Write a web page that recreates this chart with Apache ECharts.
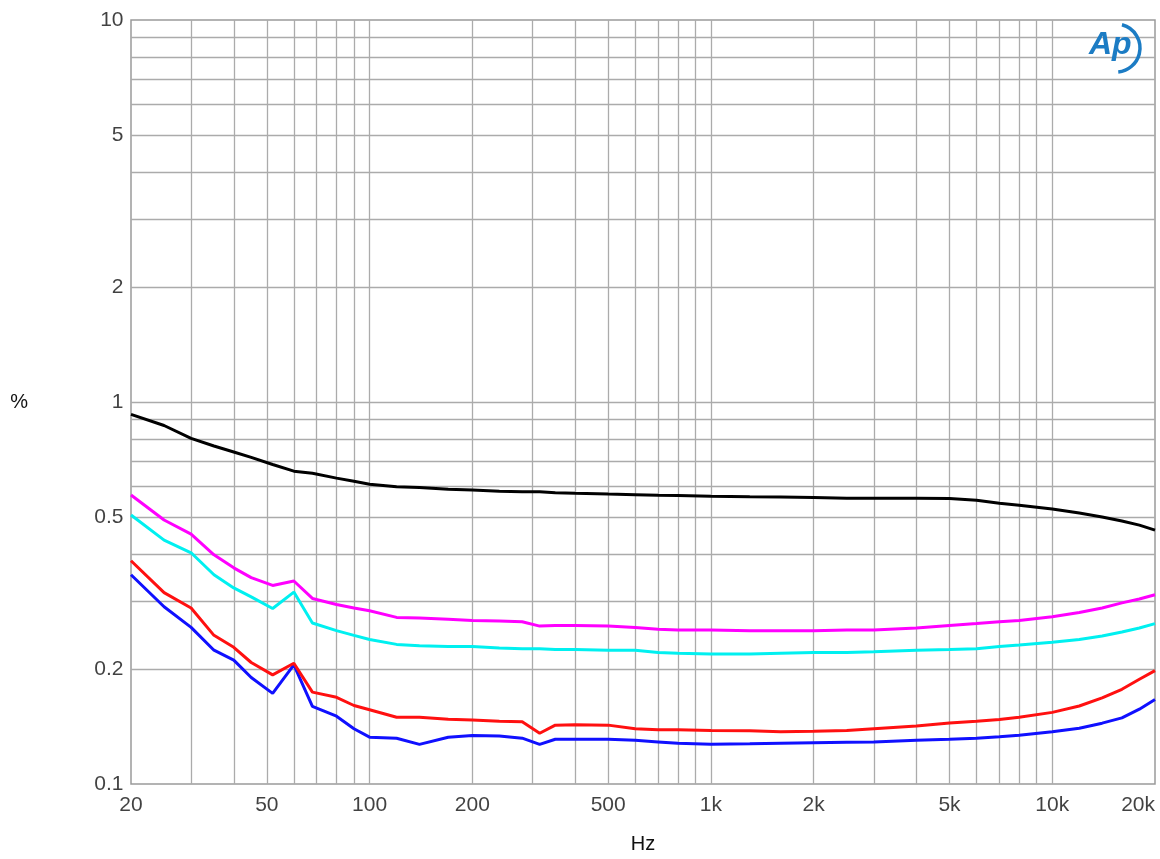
<!DOCTYPE html>
<html>
<head>
<meta charset="utf-8">
<script src="https://cdn.jsdelivr.net/npm/echarts@6/dist/echarts.min.js"></script>
<style>
html,body{margin:0;padding:0;background:#fff;}
#chart{width:1160px;height:859px;}
</style>
</head>
<body>
<div id="chart"></div>
<script>
// ---- data ----
const freqs = [20,25,30,35,40,45,52,60,68,80,90,100,120,140,170,200,240,280,315,350,400,500,600,700,800,1000,1300,1600,2000,2500,3000,4000,5000,6000,7000,8000,10000,12000,14000,16000,18000,20000];
const blackSeries = [0.928,0.868,0.803,0.767,0.740,0.716,0.686,0.659,0.651,0.632,0.620,0.609,0.600,0.597,0.591,0.588,0.584,0.582,0.582,0.579,0.577,0.574,0.572,0.570,0.569,0.567,0.565,0.564,0.562,0.560,0.560,0.560,0.559,0.553,0.543,0.537,0.525,0.512,0.500,0.488,0.476,0.462];
const magentaSeries = [0.571,0.491,0.451,0.398,0.368,0.347,0.331,0.340,0.306,0.295,0.289,0.284,0.273,0.272,0.270,0.268,0.267,0.266,0.259,0.260,0.260,0.259,0.257,0.254,0.253,0.253,0.252,0.252,0.252,0.253,0.253,0.256,0.260,0.263,0.266,0.268,0.274,0.281,0.289,0.298,0.305,0.313];
const cyanSeries = [0.506,0.435,0.403,0.353,0.326,0.309,0.288,0.318,0.264,0.252,0.245,0.239,0.232,0.230,0.229,0.229,0.227,0.226,0.226,0.225,0.225,0.224,0.224,0.221,0.220,0.219,0.219,0.220,0.221,0.221,0.222,0.224,0.225,0.226,0.229,0.231,0.235,0.239,0.244,0.250,0.256,0.263];
const redSeries = [0.384,0.317,0.289,0.245,0.228,0.208,0.193,0.207,0.174,0.1686,0.1605,0.1565,0.1495,0.1495,0.1477,0.147,0.146,0.1455,0.1358,0.1426,0.143,0.1426,0.1395,0.1386,0.1386,0.138,0.1378,0.137,0.1374,0.138,0.1395,0.1418,0.1445,0.146,0.1475,0.1495,0.154,0.160,0.168,0.177,0.188,0.198];
const blueSeries = [0.353,0.291,0.257,0.224,0.211,0.190,0.1727,0.205,0.1597,0.1505,0.1395,0.1326,0.1318,0.127,0.1326,0.134,0.1335,0.1318,0.127,0.131,0.131,0.131,0.1302,0.1289,0.1278,0.127,0.1274,0.1278,0.1282,0.1286,0.1289,0.1302,0.131,0.1318,0.133,0.1342,0.137,0.140,0.1443,0.149,0.157,0.1665];

const xTickValues = [20,50,100,200,500,1000,2000,5000,10000,20000];
const xTickLabels = ['20','50','100','200','500','1k','2k','5k','10k','20k'];
const yTickValues = [0.1,0.2,0.5,1,2,5,10];
const yTickLabels = ['0.1','0.2','0.5','1','2','5','10'];
const xGridValues = [30,40,50,60,70,80,90,100,200,300,400,500,600,700,800,900,1000,2000,3000,4000,5000,6000,7000,8000,9000,10000];
const yGridValues = [0.2,0.3,0.4,0.5,0.6,0.7,0.8,0.9,1,2,3,4,5,6,7,8,9];

const X_MIN = 20, X_MAX = 20000, Y_MIN = 0.1, Y_MAX = 10;
const FONT = 'Liberation Sans, Arial, sans-serif';
const TEXT = '#111';

function pairs(vals){ return freqs.map((f,i)=>[f, vals[i]]); }
function curve(name, vals, color){
  return {name, type:'line', data:pairs(vals), showSymbol:false, symbol:'none',
    lineStyle:{color, width:3}, z:5, animation:false, silent:true};
}

const chart = echarts.init(document.getElementById('chart'), null, {renderer:'canvas'});
const option = {
  backgroundColor:'#fff',
  animation:false,
  grid:{left:131, right:5, top:20, bottom:72, show:true, borderColor:'#9a9a9a', borderWidth:1.5, backgroundColor:'#fff'},
  xAxis:{type:'log', logBase:10, min:X_MIN, max:X_MAX,
    axisLine:{show:false}, axisTick:{show:false}, axisLabel:{show:false}, splitLine:{show:false},
    name:'Hz', nameLocation:'middle', nameGap:50,
    nameTextStyle:{fontFamily:FONT, fontSize:20, color:TEXT}},
  yAxis:{type:'log', logBase:10, min:Y_MIN, max:Y_MAX,
    axisLine:{show:false}, axisTick:{show:false}, axisLabel:{show:false}, splitLine:{show:false},
    name:'%', nameLocation:'middle', nameGap:103, nameRotate:0,
    nameTextStyle:{fontFamily:FONT, fontSize:20, color:TEXT, align:'right', verticalAlign:'middle'}},
  series:[
    {type:'line', data:[[X_MIN,Y_MIN]], symbol:'none', lineStyle:{width:0}, z:1, silent:true,
      markLine:{silent:true, symbol:['none','none'], animation:false,
        label:{show:false},
        lineStyle:{color:'#ababab', width:1.3, type:'solid'},
        data:[...xGridValues.map(v=>({xAxis:v})), ...yGridValues.map(v=>({yAxis:v}))]}},
    {type:'scatter', z:6, silent:true, symbolSize:1, itemStyle:{color:'rgba(0,0,0,0)'},
      data:xTickValues.map((v,i)=>({value:[v,Y_MIN],
        label:{formatter:xTickLabels[i], align: i===xTickValues.length-1 ? 'right' : 'center'}})),
      label:{show:true, position:'bottom', distance:10, fontFamily:FONT, fontSize:21, color:TEXT}},
    {type:'scatter', z:6, silent:true, symbolSize:1, itemStyle:{color:'rgba(0,0,0,0)'},
      data:yTickValues.map((v,i)=>({value:[X_MIN,v], label:{formatter:yTickLabels[i]}})),
      label:{show:true, position:'left', distance:7, fontFamily:FONT, fontSize:21, color:TEXT}},
    curve('black', blackSeries, '#000000'),
    curve('magenta', magentaSeries, '#ff00ff'),
    curve('cyan', cyanSeries, '#00f0f0'),
    curve('blue', blueSeries, '#1010ff'),
    curve('red', redSeries, '#ff1010')
  ],
  graphic:[
    {type:'text', left:1089, top:29, z:10, style:{text:'Ap', fontFamily:FONT, fontStyle:'italic', fontWeight:'bold', fontSize:32, fill:'#1c7cc4'}},
    {type:'arc', z:10, shape:{cx:1116, cy:48, r:24, startAngle:-Math.PI*0.42, endAngle:Math.PI*0.47}, style:{stroke:'#1c7cc4', lineWidth:3.5, fill:null}}
  ]
};
chart.setOption(option);
</script>
</body>
</html>
